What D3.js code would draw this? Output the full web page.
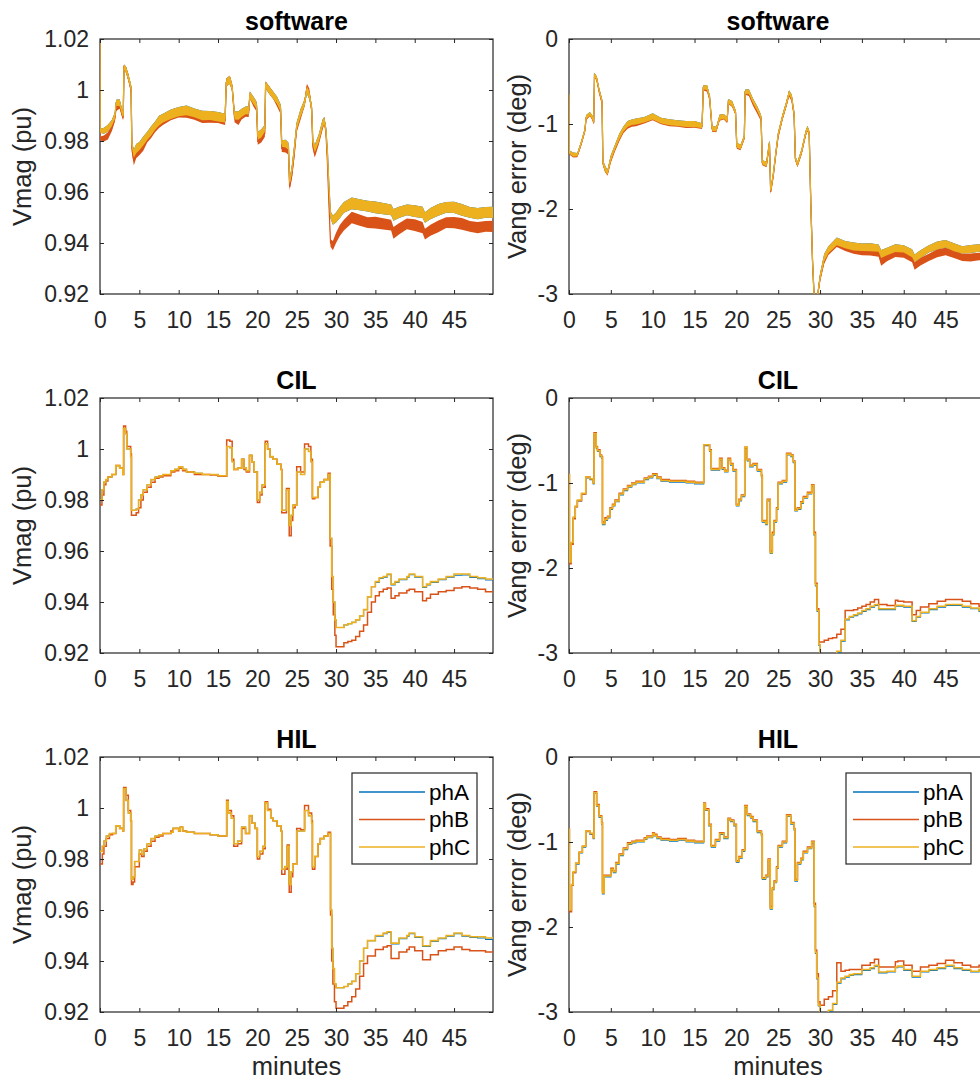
<!DOCTYPE html>
<html>
<head>
<meta charset="utf-8">
<script src="https://cdn.jsdelivr.net/npm/d3@7"></script>
<style>
  html, body { margin: 0; padding: 0; background: #ffffff; }
  svg { display: block; }
  text { font-family: "Liberation Sans", Arial, Helvetica, sans-serif; }
</style>
</head>
<body>
<svg id="fig" width="980" height="1085"></svg>
<script>
// ---------- labels, ticks, styling names ----------
const phases = ["phA", "phB", "phC"];
const phaseColors = ["#0072BD", "#D95319", "#EDB120"];
const phaseWidths = [1.1, 1.5, 1.6];
const rowTitles = ["software", "CIL", "HIL"];
const magLabel = "Vmag (pu)";
const angLabel = "Vang error (deg)";
const xLabel = "minutes";
const xTicks = [0, 5, 10, 15, 20, 25, 30, 35, 40, 45];
const magTicks = [0.92, 0.94, 0.96, 0.98, 1.0, 1.02];
const angTicks = [-3, -2, -1, 0];
const xDomain = [0, 49.95];
const magDomain = [0.92, 1.02];
const angDomain = [-3, 0];

// ---------- software run (noisy traces: centre value and half-width of the noise band) ----------
const swTime = [
  0, 0.03, 0.5, 1, 1.5, 1.9, 2.05, 2.5, 2.85, 2.95,
  3.05, 3.3, 3.6, 3.95, 4.05, 4.3, 4.6, 5, 5.5, 6,
  6.5, 7, 7.5, 8, 9, 10, 11, 12, 13, 14,
  15, 15.9, 16.05, 16.5, 16.8, 17.1, 17.6, 18, 18.5, 18.9,
  19.05, 19.5, 19.9, 20.05, 20.5, 20.95, 21.05, 21.5, 22, 22.5,
  22.95, 23.1, 23.6, 23.95, 24.1, 24.4, 24.7, 25, 25.5, 26,
  26.3, 26.6, 26.9, 27.05, 27.3, 27.8, 28.3, 28.5, 28.7, 28.9,
  29.1, 29.3, 29.6, 30, 30.5, 31, 32, 33, 34, 35,
  36, 37, 37.3, 38, 39, 40, 41, 41.3, 42, 43,
  44, 45, 46, 47, 48, 49, 49.95
];
const swMagA = [
  1.020, 0.984, 0.984, 0.985, 0.987, 0.990, 0.995, 0.995, 0.991, 0.990,
  1.009, 1.008, 1.005, 1.001, 0.979, 0.975, 0.977, 0.978, 0.980, 0.982,
  0.984, 0.986, 0.988, 0.989, 0.9905, 0.9915, 0.992, 0.991, 0.990, 0.990,
  0.9895, 0.989, 1.003, 1.004, 1.001, 0.990, 0.990, 0.991, 0.992, 0.992,
  0.998, 0.996, 0.994, 0.982, 0.983, 0.985, 1.002, 1.000, 0.998, 0.996,
  0.993, 0.979, 0.979, 0.978, 0.964, 0.969, 0.977, 0.986, 0.991, 0.995,
  1.000, 0.998, 0.993, 0.980, 0.977, 0.981, 0.987, 0.988, 0.985, 0.976,
  0.962, 0.951, 0.949, 0.950, 0.952, 0.954, 0.9555, 0.955, 0.9545, 0.954,
  0.9535, 0.953, 0.951, 0.952, 0.953, 0.9525, 0.952, 0.950, 0.9515, 0.953,
  0.954, 0.954, 0.953, 0.952, 0.9515, 0.952, 0.952
];
const swMagB = [
  1.020, 0.981, 0.981, 0.982, 0.985, 0.989, 0.993, 0.994, 0.990, 0.989,
  1.009, 1.008, 1.005, 1.000, 0.977, 0.972, 0.975, 0.976, 0.978, 0.981,
  0.983, 0.985, 0.987, 0.988, 0.990, 0.991, 0.991, 0.990, 0.989, 0.989,
  0.989, 0.988, 1.003, 1.004, 1.001, 0.989, 0.988, 0.990, 0.991, 0.991,
  0.998, 0.995, 0.993, 0.980, 0.981, 0.983, 1.002, 1.000, 0.998, 0.995,
  0.992, 0.977, 0.977, 0.976, 0.962, 0.967, 0.975, 0.985, 0.990, 0.995,
  1.001, 0.999, 0.992, 0.978, 0.975, 0.980, 0.986, 0.988, 0.984, 0.972,
  0.955, 0.940, 0.939, 0.942, 0.945, 0.947, 0.950, 0.949, 0.948, 0.948,
  0.9475, 0.947, 0.944, 0.9455, 0.9475, 0.947, 0.946, 0.9435, 0.945, 0.9465,
  0.948, 0.948, 0.9475, 0.9465, 0.946, 0.9465, 0.9465
];
const swMagC = [
  1.020, 0.984, 0.984, 0.985, 0.987, 0.990, 0.995, 0.995, 0.991, 0.990,
  1.009, 1.008, 1.005, 1.001, 0.979, 0.975, 0.977, 0.978, 0.980, 0.982,
  0.984, 0.986, 0.988, 0.989, 0.9905, 0.9915, 0.992, 0.991, 0.990, 0.990,
  0.9895, 0.989, 1.003, 1.004, 1.001, 0.990, 0.990, 0.991, 0.992, 0.992,
  0.998, 0.996, 0.994, 0.982, 0.983, 0.985, 1.002, 1.000, 0.998, 0.996,
  0.993, 0.979, 0.979, 0.978, 0.964, 0.969, 0.977, 0.986, 0.991, 0.995,
  1.000, 0.998, 0.993, 0.980, 0.977, 0.981, 0.987, 0.988, 0.985, 0.976,
  0.962, 0.951, 0.949, 0.950, 0.952, 0.954, 0.9555, 0.955, 0.9545, 0.954,
  0.9535, 0.953, 0.951, 0.952, 0.953, 0.9525, 0.952, 0.950, 0.9515, 0.953,
  0.954, 0.954, 0.953, 0.952, 0.9515, 0.952, 0.952
];
const swMagSpread = [
  0, 0.0008, 0.0012, 0.0014, 0.0012, 0.0014, 0.0012, 0.0014, 0.0012, 0.001,
  0.001, 0.0012, 0.0014, 0.0012, 0.0014, 0.0016, 0.0018, 0.0016, 0.0018, 0.0016,
  0.0018, 0.0016, 0.0019, 0.0017, 0.0019, 0.0018, 0.0019, 0.0017, 0.0019, 0.0018,
  0.0019, 0.0017, 0.0015, 0.0016, 0.0014, 0.0016, 0.0017, 0.0016, 0.0015, 0.0016,
  0.0014, 0.0015, 0.0014, 0.0015, 0.0016, 0.0014, 0.0013, 0.0015, 0.0014, 0.0015,
  0.0014, 0.0013, 0.0015, 0.0014, 0.0013, 0.0015, 0.0016, 0.0015, 0.0016, 0.0014,
  0.0015, 0.0016, 0.0014, 0.0013, 0.0015, 0.0016, 0.0015, 0.0014, 0.0013, 0.0012,
  0.0012, 0.0015, 0.0018, 0.0020, 0.0022, 0.0021, 0.0023, 0.0022, 0.0021, 0.0023,
  0.0022, 0.0021, 0.0023, 0.0022, 0.0021, 0.0023, 0.0022, 0.0021, 0.0022, 0.0023,
  0.0021, 0.0022, 0.0023, 0.0021, 0.0022, 0.0021, 0.0022
];
const swAngA = [
  -0.65, -1.33, -1.36, -1.36, -1.21, -1.07, -0.92, -0.88, -0.93, -0.98,
  -0.42, -0.46, -0.60, -0.73, -1.45, -1.52, -1.57, -1.40, -1.27, -1.15,
  -1.06, -1.00, -0.98, -0.97, -0.95, -0.91, -0.96, -0.98, -0.99, -1.00,
  -1.00, -1.02, -0.57, -0.57, -0.68, -1.05, -1.06, -0.92, -0.91, -0.95,
  -0.73, -0.76, -0.86, -1.25, -1.27, -1.15, -0.62, -0.62, -0.73, -0.82,
  -0.92, -1.45, -1.47, -1.22, -1.78, -1.60, -1.35, -1.12, -0.92, -0.75,
  -0.63, -0.68, -0.88, -1.40, -1.47, -1.32, -1.10, -1.05, -1.10, -1.95,
  -2.60, -3.05, -3.10, -2.80, -2.57, -2.48, -2.38, -2.42, -2.44, -2.45,
  -2.45, -2.46, -2.53, -2.50, -2.46, -2.47, -2.52, -2.58, -2.53, -2.47,
  -2.43, -2.41, -2.45, -2.48, -2.47, -2.46, -2.46
];
const swAngB = [
  -0.65, -1.34, -1.37, -1.37, -1.22, -1.08, -0.93, -0.89, -0.94, -0.99,
  -0.43, -0.47, -0.62, -0.75, -1.46, -1.53, -1.58, -1.42, -1.29, -1.17,
  -1.08, -1.02, -1.00, -0.99, -0.96, -0.92, -0.97, -0.99, -1.00, -1.01,
  -1.01, -1.03, -0.58, -0.59, -0.70, -1.06, -1.07, -0.93, -0.92, -0.96,
  -0.74, -0.77, -0.87, -1.26, -1.28, -1.16, -0.63, -0.64, -0.76, -0.85,
  -0.94, -1.46, -1.48, -1.23, -1.80, -1.62, -1.37, -1.14, -0.93, -0.76,
  -0.65, -0.70, -0.90, -1.41, -1.48, -1.33, -1.11, -1.06, -1.11, -1.96,
  -2.62, -3.05, -3.10, -2.82, -2.60, -2.50, -2.40, -2.45, -2.48, -2.50,
  -2.50, -2.52, -2.62, -2.57, -2.52, -2.53, -2.58, -2.67, -2.62, -2.57,
  -2.52, -2.50, -2.53, -2.57, -2.57, -2.56, -2.55
];
const swAngC = [
  -0.65, -1.33, -1.36, -1.36, -1.21, -1.07, -0.92, -0.88, -0.93, -0.98,
  -0.42, -0.46, -0.60, -0.73, -1.45, -1.52, -1.57, -1.40, -1.27, -1.15,
  -1.06, -1.00, -0.98, -0.97, -0.95, -0.91, -0.96, -0.98, -0.99, -1.00,
  -1.00, -1.02, -0.57, -0.57, -0.68, -1.05, -1.06, -0.92, -0.91, -0.95,
  -0.73, -0.76, -0.86, -1.25, -1.27, -1.15, -0.62, -0.62, -0.73, -0.82,
  -0.92, -1.45, -1.47, -1.22, -1.78, -1.60, -1.35, -1.12, -0.92, -0.75,
  -0.63, -0.68, -0.88, -1.40, -1.47, -1.32, -1.10, -1.05, -1.10, -1.95,
  -2.60, -3.05, -3.10, -2.80, -2.57, -2.48, -2.38, -2.42, -2.44, -2.45,
  -2.45, -2.46, -2.53, -2.50, -2.46, -2.47, -2.52, -2.58, -2.53, -2.47,
  -2.43, -2.41, -2.45, -2.48, -2.47, -2.46, -2.46
];
const swAngSpread = [
  0, 0.02, 0.025, 0.02, 0.025, 0.02, 0.025, 0.02, 0.025, 0.02,
  0.02, 0.025, 0.02, 0.025, 0.03, 0.035, 0.03, 0.035, 0.03, 0.035,
  0.03, 0.035, 0.032, 0.036, 0.033, 0.037, 0.034, 0.036, 0.033, 0.036,
  0.034, 0.03, 0.025, 0.03, 0.025, 0.03, 0.028, 0.032, 0.028, 0.03,
  0.025, 0.03, 0.028, 0.03, 0.028, 0.025, 0.025, 0.03, 0.028, 0.03,
  0.028, 0.025, 0.03, 0.028, 0.025, 0.03, 0.028, 0.03, 0.032, 0.03,
  0.028, 0.03, 0.028, 0.025, 0.03, 0.028, 0.03, 0.028, 0.025, 0.02,
  0.02, 0.02, 0.03, 0.04, 0.045, 0.042, 0.046, 0.043, 0.047, 0.044,
  0.046, 0.043, 0.047, 0.044, 0.046, 0.043, 0.047, 0.044, 0.046, 0.043,
  0.047, 0.044, 0.046, 0.043, 0.047, 0.044, 0.045
];

// ---------- CIL run (stepped traces) ----------
const cilTime = [
  0, 0.05, 0.25, 0.5, 0.75, 1, 1.5, 2, 2.5, 2.9,
  3, 3.25, 3.4, 3.7, 3.9, 4, 4.3, 4.6, 4.9, 5.2,
  5.5, 6, 6.5, 7, 7.5, 8, 9, 9.5, 10, 10.5,
  11, 12, 13, 14, 15, 16.1, 16.5, 16.8, 17, 17.5,
  18, 18.3, 18.6, 19, 19.3, 19.6, 20, 20.3, 20.6, 21,
  21.3, 21.6, 22, 22.5, 23, 23.1, 23.5, 23.7, 24.05, 24.3,
  24.5, 24.8, 25, 25.5, 26, 26.5, 26.8, 27, 27.3, 27.7,
  28, 28.5, 29, 29.25, 29.45, 29.65, 29.85, 30, 30.5, 31,
  31.5, 32, 32.5, 33, 33.5, 34, 34.5, 35, 35.5, 36,
  36.5, 37, 37.5, 38, 39, 39.3, 40, 41, 41.5, 42,
  43, 44, 45, 46, 47, 48, 49, 49.95
];
const cilMagA = [
  0.980, 0.980, 0.984, 0.987, 0.988, 0.989, 0.990, 0.9935, 0.9925, 0.990,
  1.008, 1.006, 1.000, 1.000, 0.997, 0.976, 0.976, 0.9765, 0.980, 0.982,
  0.984, 0.986, 0.988, 0.989, 0.9895, 0.990, 0.9915, 0.992, 0.993, 0.992,
  0.991, 0.9905, 0.990, 0.990, 0.9895, 1.001, 1.0005, 0.995, 0.992, 0.9925,
  0.996, 0.9925, 0.9915, 0.9975, 0.995, 0.991, 0.980, 0.983, 0.986, 1.002,
  1.000, 0.997, 0.996, 0.994, 0.992, 0.976, 0.976, 0.984, 0.970, 0.974,
  0.978, 0.978, 0.991, 0.990, 1.000, 0.999, 0.995, 0.981, 0.981, 0.985,
  0.987, 0.988, 0.990, 0.965, 0.950, 0.940, 0.933, 0.930, 0.930, 0.931,
  0.9315, 0.932, 0.933, 0.9345, 0.937, 0.942, 0.946, 0.9477, 0.9492, 0.9497,
  0.9507, 0.9467, 0.9477, 0.9487, 0.9497, 0.9507, 0.9497, 0.9457, 0.9467, 0.9477,
  0.9487, 0.9497, 0.9505, 0.9506, 0.9496, 0.9491, 0.9486, 0.9486
];
const cilMagB = [
  0.978, 0.978, 0.982, 0.986, 0.9875, 0.989, 0.990, 0.9935, 0.9925, 0.990,
  1.009, 1.007, 1.001, 1.001, 0.998, 0.974, 0.974, 0.975, 0.977, 0.980,
  0.983, 0.985, 0.987, 0.9885, 0.989, 0.9895, 0.991, 0.9915, 0.9925, 0.9915,
  0.991, 0.990, 0.990, 0.9898, 0.9893, 1.0035, 1.003, 0.996, 0.992, 0.9925,
  0.996, 0.992, 0.991, 0.9975, 0.995, 0.991, 0.979, 0.982, 0.985, 1.003,
  1.000, 0.997, 0.996, 0.994, 0.992, 0.975, 0.975, 0.9845, 0.966, 0.972,
  0.977, 0.978, 0.993, 0.991, 1.002, 1.001, 0.996, 0.9805, 0.981, 0.985,
  0.987, 0.988, 0.9905, 0.962, 0.945, 0.935, 0.927, 0.9225, 0.9225, 0.924,
  0.9245, 0.925, 0.9265, 0.9285, 0.931, 0.936, 0.940, 0.9425, 0.944, 0.945,
  0.9455, 0.9415, 0.9425, 0.9435, 0.9445, 0.945, 0.944, 0.9405, 0.9415, 0.943,
  0.944, 0.9445, 0.9455, 0.946, 0.9455, 0.945, 0.944, 0.9438
];
const cilMagC = [
  0.980, 0.980, 0.984, 0.987, 0.988, 0.989, 0.990, 0.9935, 0.9925, 0.990,
  1.008, 1.006, 1.000, 1.000, 0.997, 0.976, 0.976, 0.9765, 0.980, 0.982,
  0.984, 0.986, 0.988, 0.989, 0.9895, 0.990, 0.9915, 0.992, 0.993, 0.992,
  0.991, 0.9905, 0.990, 0.990, 0.9895, 1.001, 1.0005, 0.995, 0.992, 0.9925,
  0.996, 0.9925, 0.9915, 0.9975, 0.995, 0.991, 0.980, 0.983, 0.986, 1.002,
  1.000, 0.997, 0.996, 0.994, 0.992, 0.976, 0.976, 0.984, 0.970, 0.974,
  0.978, 0.978, 0.991, 0.990, 1.000, 0.999, 0.995, 0.981, 0.981, 0.985,
  0.987, 0.988, 0.990, 0.965, 0.950, 0.940, 0.933, 0.930, 0.930, 0.931,
  0.9315, 0.932, 0.933, 0.9345, 0.937, 0.942, 0.946, 0.948, 0.9495, 0.950,
  0.951, 0.947, 0.948, 0.949, 0.950, 0.951, 0.950, 0.946, 0.947, 0.948,
  0.949, 0.950, 0.951, 0.951, 0.950, 0.9495, 0.949, 0.949
];
const cilAngA = [
  -0.91, -1.94, -1.71, -1.41, -1.28, -1.21, -1.13, -0.94, -0.96, -1.01,
  -0.43, -0.59, -0.63, -0.69, -0.71, -1.49, -1.44, -1.41, -1.31, -1.27,
  -1.22, -1.14, -1.09, -1.05, -1.02, -1.00, -0.96, -0.94, -0.91, -0.95,
  -0.98, -0.99, -0.99, -1.00, -1.01, -0.56, -0.56, -0.63, -0.85, -0.85,
  -0.73, -0.84, -0.87, -0.73, -0.79, -0.86, -1.27, -1.21, -1.16, -0.59,
  -0.74, -0.81, -0.79, -0.86, -0.93, -1.46, -1.49, -1.21, -1.83, -1.61,
  -1.46, -1.31, -1.01, -0.99, -0.67, -0.69, -0.76, -1.33, -1.31, -1.24,
  -1.18, -1.13, -1.04, -1.61, -2.21, -2.51, -2.91, -3.03, -3.03, -3.03,
  -3.02, -2.99, -2.86, -2.61, -2.58, -2.56, -2.54, -2.51, -2.49, -2.46,
  -2.44, -2.49, -2.49, -2.49, -2.45, -2.45, -2.46, -2.63, -2.58, -2.53,
  -2.49, -2.46, -2.44, -2.44, -2.46, -2.48, -2.51, -2.51
];
const cilAngB = [
  -0.90, -1.95, -1.72, -1.42, -1.28, -1.21, -1.13, -0.93, -0.95, -1.00,
  -0.41, -0.57, -0.61, -0.67, -0.69, -1.46, -1.41, -1.39, -1.29, -1.25,
  -1.20, -1.12, -1.07, -1.03, -1.00, -0.98, -0.94, -0.92, -0.89, -0.93,
  -0.96, -0.97, -0.97, -0.98, -0.99, -0.55, -0.55, -0.61, -0.83, -0.83,
  -0.71, -0.82, -0.85, -0.71, -0.77, -0.84, -1.25, -1.19, -1.14, -0.58,
  -0.72, -0.79, -0.77, -0.84, -0.91, -1.44, -1.47, -1.19, -1.80, -1.58,
  -1.44, -1.29, -0.99, -0.97, -0.65, -0.67, -0.74, -1.31, -1.29, -1.22,
  -1.16, -1.11, -1.02, -1.58, -2.18, -2.48, -2.87, -2.87, -2.85, -2.83,
  -2.82, -2.78, -2.72, -2.50, -2.50, -2.49, -2.47, -2.45, -2.43, -2.40,
  -2.37, -2.43, -2.43, -2.44, -2.38, -2.39, -2.40, -2.55, -2.50, -2.46,
  -2.42, -2.39, -2.37, -2.37, -2.39, -2.42, -2.45, -2.45
];
const cilAngC = [
  -0.90, -1.93, -1.70, -1.40, -1.27, -1.20, -1.12, -0.93, -0.95, -1.00,
  -0.42, -0.58, -0.62, -0.68, -0.70, -1.48, -1.43, -1.40, -1.30, -1.26,
  -1.21, -1.13, -1.08, -1.04, -1.01, -0.99, -0.95, -0.93, -0.90, -0.94,
  -0.97, -0.98, -0.98, -0.99, -1.00, -0.55, -0.55, -0.62, -0.84, -0.84,
  -0.72, -0.83, -0.86, -0.72, -0.78, -0.85, -1.26, -1.20, -1.15, -0.58,
  -0.73, -0.80, -0.78, -0.85, -0.92, -1.45, -1.48, -1.20, -1.82, -1.60,
  -1.45, -1.30, -1.00, -0.98, -0.66, -0.68, -0.75, -1.32, -1.30, -1.23,
  -1.17, -1.12, -1.03, -1.60, -2.20, -2.50, -2.90, -3.02, -3.02, -3.02,
  -3.01, -2.98, -2.85, -2.60, -2.57, -2.55, -2.53, -2.50, -2.48, -2.45,
  -2.43, -2.48, -2.48, -2.48, -2.44, -2.44, -2.45, -2.62, -2.57, -2.52,
  -2.48, -2.45, -2.43, -2.43, -2.45, -2.47, -2.50, -2.50
];

// ---------- HIL run (stepped traces) ----------
const hilTime = [
  0, 0.05, 0.3, 0.5, 0.8, 1.2, 1.6, 2, 2.5, 2.9,
  3, 3.3, 3.6, 3.9, 4, 4.2, 4.4, 4.7, 5, 5.3,
  5.6, 6, 6.5, 7, 7.5, 8, 9, 9.3, 10, 10.2,
  10.5, 11, 12, 13, 14, 15, 16.1, 16.3, 16.7, 17,
  17.5, 18, 18.5, 19, 19.3, 19.7, 20, 20.3, 20.7, 21,
  21.3, 21.7, 22, 22.5, 23, 23.1, 23.5, 23.8, 24.05, 24.3,
  24.5, 24.8, 25, 25.5, 26, 26.5, 26.9, 27, 27.3, 27.7,
  28, 28.5, 29, 29.3, 29.45, 29.6, 29.8, 30, 30.5, 31,
  31.5, 32, 32.5, 33, 33.5, 34, 35, 36, 36.5, 37,
  38, 39, 39.3, 40, 41, 42, 43, 44, 45, 46,
  47, 48, 49, 49.95
];
const hilMagA = [
  0.983, 0.983, 0.985, 0.987, 0.989, 0.990, 0.990, 0.993, 0.992, 0.991,
  1.0075, 1.003, 0.998, 0.995, 0.972, 0.973, 0.979, 0.979, 0.9835, 0.982,
  0.984, 0.986, 0.988, 0.989, 0.9895, 0.990, 0.9905, 0.992, 0.991, 0.9925,
  0.991, 0.9905, 0.990, 0.990, 0.9895, 0.989, 1.0025, 0.998, 0.996, 0.986,
  0.987, 0.9925, 0.990, 0.997, 0.994, 0.992, 0.981, 0.983, 0.985, 1.002,
  0.999, 0.996, 0.995, 0.993, 0.991, 0.976, 0.977, 0.985, 0.970, 0.975,
  0.978, 0.978, 0.991, 0.991, 0.999, 0.997, 0.994, 0.977, 0.981, 0.986,
  0.988, 0.989, 0.990, 0.960, 0.945, 0.937, 0.931, 0.9295, 0.9295, 0.930,
  0.931, 0.932, 0.935, 0.940, 0.945, 0.948, 0.9497, 0.9507, 0.9512, 0.9467,
  0.9487, 0.9497, 0.9507, 0.9492, 0.9457, 0.9477, 0.9487, 0.9497, 0.9507, 0.9497,
  0.9492, 0.9490, 0.9485, 0.9488
];
const hilMagB = [
  0.978, 0.978, 0.982, 0.985, 0.988, 0.9895, 0.990, 0.993, 0.992, 0.991,
  1.008, 1.005, 0.999, 0.995, 0.970, 0.971, 0.977, 0.977, 0.982, 0.981,
  0.983, 0.985, 0.987, 0.9885, 0.989, 0.990, 0.991, 0.992, 0.991, 0.9925,
  0.991, 0.9905, 0.990, 0.990, 0.9895, 0.989, 1.003, 0.999, 0.997, 0.985,
  0.986, 0.992, 0.990, 0.997, 0.994, 0.992, 0.980, 0.982, 0.984, 1.0025,
  0.9995, 0.996, 0.995, 0.993, 0.991, 0.974, 0.976, 0.9855, 0.967, 0.973,
  0.978, 0.978, 0.992, 0.9915, 1.001, 0.998, 0.995, 0.976, 0.981, 0.986,
  0.988, 0.989, 0.9905, 0.958, 0.940, 0.931, 0.924, 0.9215, 0.9215, 0.9225,
  0.924, 0.926, 0.929, 0.934, 0.939, 0.942, 0.9445, 0.9455, 0.946, 0.941,
  0.9435, 0.9445, 0.9455, 0.944, 0.9405, 0.9425, 0.944, 0.9445, 0.9455, 0.9445,
  0.944, 0.944, 0.9435, 0.944
];
const hilMagC = [
  0.983, 0.983, 0.985, 0.987, 0.989, 0.990, 0.990, 0.993, 0.992, 0.991,
  1.0075, 1.003, 0.998, 0.995, 0.972, 0.973, 0.979, 0.979, 0.9835, 0.982,
  0.984, 0.986, 0.988, 0.989, 0.9895, 0.990, 0.9905, 0.992, 0.991, 0.9925,
  0.991, 0.9905, 0.990, 0.990, 0.9895, 0.989, 1.0025, 0.998, 0.996, 0.986,
  0.987, 0.9925, 0.990, 0.997, 0.994, 0.992, 0.981, 0.983, 0.985, 1.002,
  0.999, 0.996, 0.995, 0.993, 0.991, 0.976, 0.977, 0.985, 0.970, 0.975,
  0.978, 0.978, 0.991, 0.991, 0.999, 0.997, 0.994, 0.977, 0.981, 0.986,
  0.988, 0.989, 0.990, 0.960, 0.945, 0.937, 0.931, 0.9295, 0.9295, 0.930,
  0.931, 0.932, 0.935, 0.940, 0.945, 0.948, 0.950, 0.951, 0.9515, 0.947,
  0.949, 0.950, 0.951, 0.9495, 0.946, 0.948, 0.949, 0.950, 0.951, 0.950,
  0.9495, 0.9495, 0.949, 0.9495
];
const hilAngA = [
  -0.86, -1.81, -1.51, -1.36, -1.26, -1.13, -1.06, -0.88, -0.91, -0.96,
  -0.43, -0.58, -0.71, -0.79, -1.61, -1.41, -1.41, -1.41, -1.33, -1.36,
  -1.26, -1.16, -1.09, -1.03, -1.01, -1.00, -0.97, -0.95, -0.91, -0.93,
  -0.96, -0.98, -0.99, -0.98, -1.00, -1.01, -0.56, -0.63, -0.81, -1.06,
  -0.99, -0.91, -0.96, -0.74, -0.76, -0.81, -1.24, -1.19, -1.11, -0.59,
  -0.69, -0.72, -0.76, -0.89, -0.93, -1.44, -1.41, -1.22, -1.79, -1.56,
  -1.48, -1.31, -1.06, -1.01, -0.70, -0.79, -0.86, -1.46, -1.26, -1.21,
  -1.13, -1.08, -1.01, -1.76, -2.31, -2.61, -2.93, -3.03, -3.03, -2.99,
  -2.91, -2.66, -2.61, -2.59, -2.57, -2.56, -2.51, -2.49, -2.46, -2.54,
  -2.53, -2.48, -2.47, -2.51, -2.59, -2.53, -2.51, -2.49, -2.46, -2.49,
  -2.51, -2.53, -2.51, -2.49
];
const hilAngB = [
  -0.85, -1.82, -1.51, -1.36, -1.25, -1.12, -1.05, -0.87, -0.90, -0.95,
  -0.41, -0.56, -0.69, -0.77, -1.58, -1.39, -1.39, -1.39, -1.31, -1.34,
  -1.24, -1.14, -1.07, -1.01, -0.99, -0.98, -0.95, -0.93, -0.89, -0.91,
  -0.94, -0.96, -0.97, -0.96, -0.98, -0.99, -0.54, -0.61, -0.79, -1.04,
  -0.97, -0.89, -0.94, -0.72, -0.74, -0.79, -1.22, -1.17, -1.09, -0.57,
  -0.67, -0.70, -0.74, -0.87, -0.91, -1.42, -1.39, -1.20, -1.76, -1.54,
  -1.46, -1.29, -1.04, -0.99, -0.68, -0.77, -0.84, -1.44, -1.24, -1.19,
  -1.11, -1.06, -0.99, -1.72, -2.27, -2.55, -2.88, -2.92, -2.85, -2.82,
  -2.75, -2.42, -2.52, -2.51, -2.50, -2.50, -2.45, -2.42, -2.38, -2.47,
  -2.47, -2.41, -2.40, -2.45, -2.52, -2.47, -2.45, -2.43, -2.39, -2.42,
  -2.45, -2.47, -2.45, -2.43
];
const hilAngC = [
  -0.85, -1.80, -1.50, -1.35, -1.25, -1.12, -1.05, -0.87, -0.90, -0.95,
  -0.42, -0.57, -0.70, -0.78, -1.60, -1.40, -1.40, -1.40, -1.32, -1.35,
  -1.25, -1.15, -1.08, -1.02, -1.00, -0.99, -0.96, -0.94, -0.90, -0.92,
  -0.95, -0.97, -0.98, -0.97, -0.99, -1.00, -0.55, -0.62, -0.80, -1.05,
  -0.98, -0.90, -0.95, -0.73, -0.75, -0.80, -1.23, -1.18, -1.10, -0.58,
  -0.68, -0.71, -0.75, -0.88, -0.92, -1.43, -1.40, -1.21, -1.78, -1.55,
  -1.47, -1.30, -1.05, -1.00, -0.69, -0.78, -0.85, -1.45, -1.25, -1.20,
  -1.12, -1.07, -1.00, -1.75, -2.30, -2.60, -2.92, -3.02, -3.02, -2.98,
  -2.90, -2.65, -2.60, -2.58, -2.56, -2.55, -2.50, -2.48, -2.45, -2.53,
  -2.52, -2.47, -2.46, -2.50, -2.58, -2.52, -2.50, -2.48, -2.45, -2.48,
  -2.50, -2.52, -2.50, -2.48
];

// ---------- figure layout ----------
const svg = d3.select("#fig");
const ink = "#262626";
const fontTick = 23, fontLabel = 25.5, fontTitle = 25;
const colBoxes = [{ x0: 100, x1: 493 }, { x0: 569, x1: 987 }];
const rowBoxes = [{ y0: 39, y1: 294 }, { y0: 398, y1: 653 }, { y0: 757, y1: 1012 }];
const yLabelX = [31, 526];

const panels = [
  { row: 0, col: 0, kind: "mag", time: swTime, series: [swMagA, swMagB, swMagC], spread: swMagSpread },
  { row: 0, col: 1, kind: "ang", time: swTime, series: [swAngA, swAngB, swAngC], spread: swAngSpread },
  { row: 1, col: 0, kind: "mag", time: cilTime, series: [cilMagA, cilMagB, cilMagC] },
  { row: 1, col: 1, kind: "ang", time: cilTime, series: [cilAngA, cilAngB, cilAngC] },
  { row: 2, col: 0, kind: "mag", time: hilTime, series: [hilMagA, hilMagB, hilMagC], legend: true },
  { row: 2, col: 1, kind: "ang", time: hilTime, series: [hilAngA, hilAngB, hilAngC], legend: true }
];

const fmtMag = d => String(+d.toFixed(2));
const fmtAng = d => String(d);

function styleAxis(sel) {
  sel.attr("font-family", null).attr("font-size", null);
  sel.select(".domain").remove();
  sel.selectAll(".tick line").attr("stroke", ink).attr("stroke-width", 1);
  sel.selectAll(".tick text").attr("fill", ink).style("font-size", fontTick + "px");
}

panels.forEach((p, i) => {
  const cb = colBoxes[p.col], rb = rowBoxes[p.row];
  const w = cb.x1 - cb.x0, h = rb.y1 - rb.y0;
  const isMag = p.kind === "mag";
  const x = d3.scaleLinear().domain(xDomain).range([0, w]);
  const y = d3.scaleLinear().domain(isMag ? magDomain : angDomain).range([h, 0]);
  const g = svg.append("g").attr("transform", `translate(${cb.x0},${rb.y0})`);

  g.append("clipPath").attr("id", "clip" + i)
    .append("rect").attr("x", 0).attr("y", 0).attr("width", w).attr("height", h);

  // axes box
  g.append("rect").attr("x", 0).attr("y", 0).attr("width", w).attr("height", h)
    .attr("fill", "#ffffff").attr("stroke", ink).attr("stroke-width", 1.2);

  // traces: phA first, phC last so phC sits on top
  const plot = g.append("g").attr("clip-path", `url(#clip${i})`);
  p.series.forEach((vals, k) => {
    const pts = p.time.map((t, j) => ({ t, v: vals[j], s: p.spread ? p.spread[j] : 0 }));
    if (p.spread) {
      const band = d3.area().x(d => x(d.t)).y0(d => y(d.v - d.s)).y1(d => y(d.v + d.s));
      plot.append("path").datum(pts).attr("d", band).attr("fill", phaseColors[k]);
      const mid = d3.line().x(d => x(d.t)).y(d => y(d.v));
      plot.append("path").datum(pts).attr("d", mid)
        .attr("fill", "none").attr("stroke", phaseColors[k]).attr("stroke-width", 1.2);
    } else {
      const stairs = d3.line().curve(d3.curveStepAfter).x(d => x(d.t)).y(d => y(d.v));
      plot.append("path").datum(pts).attr("d", stairs)
        .attr("fill", "none").attr("stroke", phaseColors[k]).attr("stroke-width", phaseWidths[k]);
    }
  });

  // ticks on all four sides, labels on left and bottom
  const yTicks = isMag ? magTicks : angTicks;
  g.append("g").call(d3.axisLeft(y).tickValues(yTicks).tickSizeInner(-4).tickSizeOuter(0)
      .tickPadding(11).tickFormat(isMag ? fmtMag : fmtAng)).call(styleAxis);
  g.append("g").attr("transform", `translate(${w},0)`)
    .call(d3.axisRight(y).tickValues(yTicks).tickSizeInner(-4).tickSizeOuter(0).tickFormat(() => ""))
    .call(styleAxis);
  g.append("g").attr("transform", `translate(0,${h})`)
    .call(d3.axisBottom(x).tickValues(xTicks).tickSizeInner(-4).tickSizeOuter(0)
      .tickPadding(18).tickFormat(d => String(d))).call(styleAxis);
  g.append("g")
    .call(d3.axisTop(x).tickValues(xTicks).tickSizeInner(-4).tickSizeOuter(0).tickFormat(() => ""))
    .call(styleAxis);

  // title
  g.append("text").attr("x", w / 2).attr("y", -9).attr("text-anchor", "middle")
    .style("font-size", fontTitle + "px").style("font-weight", "bold").attr("fill", "#000000")
    .text(rowTitles[p.row]);

  // y label
  svg.append("text")
    .attr("transform", `translate(${yLabelX[p.col]},${rb.y0 + h / 2}) rotate(-90)`)
    .attr("text-anchor", "middle").style("font-size", fontLabel + "px").attr("fill", ink)
    .text(isMag ? magLabel : angLabel);

  // x label on the bottom row
  if (p.row === 2) {
    g.append("text").attr("x", w / 2).attr("y", h + 63).attr("text-anchor", "middle")
      .style("font-size", fontLabel + "px").attr("fill", ink).text(xLabel);
  }

  // legend
  if (p.legend) {
    const lw = 125, lh = 91;
    const lg = g.append("g").attr("transform", `translate(${w - 16 - lw},16)`);
    lg.append("rect").attr("width", lw).attr("height", lh)
      .attr("fill", "#ffffff").attr("stroke", ink).attr("stroke-width", 1.2);
    phases.forEach((name, k) => {
      const cy = 19 + k * 27.5;
      lg.append("line").attr("x1", 7).attr("x2", 73).attr("y1", cy).attr("y2", cy)
        .attr("stroke", phaseColors[k]).attr("stroke-width", 1.5);
      lg.append("text").attr("x", 77).attr("y", cy).attr("dy", "0.35em")
        .style("font-size", "22.5px").attr("fill", "#000000").text(name);
    });
  }
});
</script>
</body>
</html>
